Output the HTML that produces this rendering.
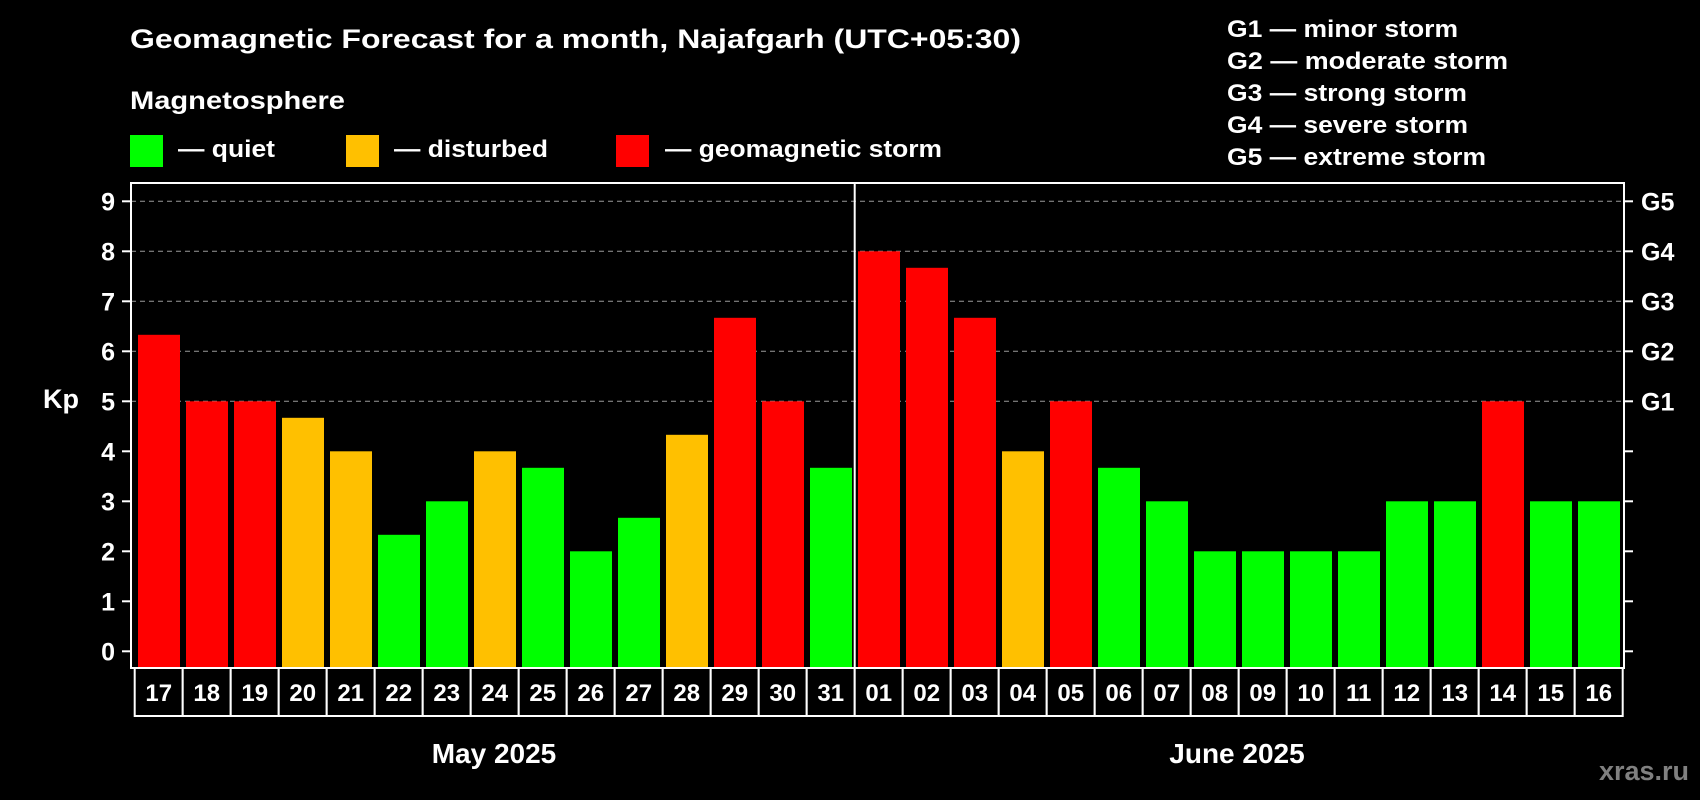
<!DOCTYPE html>
<html><head><meta charset="utf-8"><style>
html,body{margin:0;padding:0;background:#000;width:1700px;height:800px;overflow:hidden}
svg{display:block;font-family:"Liberation Sans",Arial,sans-serif;font-weight:bold}
</style></head><body>
<svg id="chart" width="1700" height="800" viewBox="0 0 1700 800">
<rect x="0" y="0" width="1700" height="800" fill="#000"/>
<text x="130" y="48" font-size="27" fill="#fff" textLength="891" lengthAdjust="spacingAndGlyphs">Geomagnetic Forecast for a month, Najafgarh (UTC+05:30)</text>
<text x="130" y="109" font-size="25" fill="#fff" textLength="215" lengthAdjust="spacingAndGlyphs">Magnetosphere</text>
<g>
<rect x="130" y="135" width="33" height="32" fill="#00ff00"/>
<text x="178" y="157" font-size="24" fill="#fff" textLength="97" lengthAdjust="spacingAndGlyphs">— quiet</text></g>
<g>
<rect x="346" y="135" width="33" height="32" fill="#ffc000"/>
<text x="394" y="157" font-size="24" fill="#fff" textLength="154" lengthAdjust="spacingAndGlyphs">— disturbed</text></g>
<g>
<rect x="616" y="135" width="33" height="32" fill="#ff0000"/>
<text x="665" y="157" font-size="24" fill="#fff" textLength="277" lengthAdjust="spacingAndGlyphs">— geomagnetic storm</text></g>
<g font-size="24" fill="#fff">
<text x="1227" y="37" textLength="231" lengthAdjust="spacingAndGlyphs">G1 — minor storm</text>
<text x="1227" y="69" textLength="281" lengthAdjust="spacingAndGlyphs">G2 — moderate storm</text>
<text x="1227" y="101" textLength="240" lengthAdjust="spacingAndGlyphs">G3 — strong storm</text>
<text x="1227" y="133" textLength="241" lengthAdjust="spacingAndGlyphs">G4 — severe storm</text>
<text x="1227" y="165" textLength="259" lengthAdjust="spacingAndGlyphs">G5 — extreme storm</text>
</g>
<g id="grid"></g>
<g id="bars"></g>
<g id="axes"></g>
<text x="43" y="408" font-size="27" fill="#fff">Kp</text>
<text x="494" y="763" font-size="28" fill="#fff" text-anchor="middle">May 2025</text>
<text x="1237" y="763" font-size="28" fill="#fff" text-anchor="middle">June 2025</text>
<text x="1689" y="780" font-size="27" fill="#808080" text-anchor="end">xras.ru</text>
</svg>
<script>
const days = ["17","18","19","20","21","22","23","24","25","26","27","28","29","30","31","01","02","03","04","05","06","07","08","09","10","11","12","13","14","15","16"];
const kpValues = [6.33,5,5,4.67,4,2.33,3,4,3.67,2,2.67,4.33,6.67,5,3.67,8,7.67,6.67,4,5,3.67,3,2,2,2,2,3,3,5,3,3];
const yTicks = [0,1,2,3,4,5,6,7,8,9];
const gLabels = ["G1","G2","G3","G4","G5"];
const gLevels = [5,6,7,8,9];

const NS="http://www.w3.org/2000/svg";
const L=131,R=1624,T=183,B=668;
const X0=134.7,STEP=48;
function y(v){return 651.3-50*v;}
function xBox(i){return X0+STEP*i;}
function mk(tag,attrs,parent){const e=document.createElementNS(NS,tag);for(const k in attrs)e.setAttribute(k,attrs[k]);parent.appendChild(e);return e;}
function colorFor(v){return v>=5?"#ff0000":(v>=4?"#ffc000":"#00ff00");}

const grid=document.getElementById("grid"),bars=document.getElementById("bars"),axes=document.getElementById("axes");
gLevels.forEach((v,i)=>{
  const ln=mk("line",{x1:L,x2:R,y1:y(v),y2:y(v),stroke:"#9a9a9a","stroke-width":1,"stroke-dasharray":"5,4"},grid);
  
  
  const t=mk("text",{x:1641,y:y(v)+9,"font-size":25,fill:"#fff"},axes);
  t.textContent=gLabels[i];
  
  
});
kpValues.forEach((v,i)=>{
  const r=mk("rect",{x:xBox(i)+3.3,y:y(v),width:42,height:B-y(v),fill:colorFor(v)},bars);
  
  
});
mk("rect",{x:L,y:T,width:R-L,height:B-T,fill:"none",stroke:"#fff","stroke-width":2},axes);
const sep=mk("line",{x1:xBox(15),x2:xBox(15),y1:T,y2:B,stroke:"#fff","stroke-width":2},axes);


yTicks.forEach(v=>{
  mk("line",{x1:122,x2:L,y1:y(v),y2:y(v),stroke:"#fff","stroke-width":2},axes);
  mk("line",{x1:R,x2:1633,y1:y(v),y2:y(v),stroke:"#fff","stroke-width":2},axes);
  const t=mk("text",{x:115,y:y(v)+9,"font-size":25,fill:"#fff","text-anchor":"end"},axes);
  t.textContent=v;
  
  
});
days.forEach((d,i)=>{
  const g=mk("g",{},axes);
  
  
  mk("rect",{x:xBox(i),y:B,width:STEP,height:48,fill:"#000",stroke:"#fff","stroke-width":2},g);
  const t=mk("text",{x:xBox(i)+STEP/2,y:B+33,"font-size":24,fill:"#fff","text-anchor":"middle"},g);
  t.textContent=d;
});
</script>
</body></html>
